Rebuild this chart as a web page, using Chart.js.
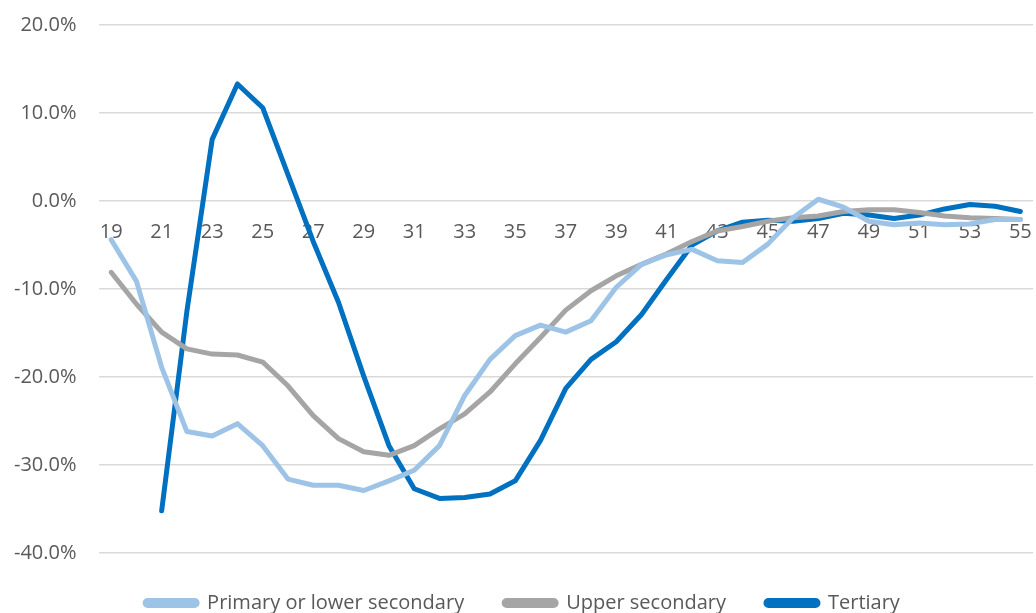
<!DOCTYPE html>
<html>
<head>
<meta charset="utf-8">
<script src="https://cdn.jsdelivr.net/npm/chart.js@4"></script>
<style>
  html, body { margin: 0; padding: 0; background: #fff; }
  #wrap { width: 1036px; height: 613px; }
</style>
</head>
<body>
<div id="wrap"><canvas id="chart" width="1036" height="613"></canvas></div>
<script>
// ages 19..55
const ages = [];
for (let a = 19; a <= 55; a++) ages.push(String(a));

const primary = [
  -4.4, -9.1, -18.9, -26.2, -26.7, -25.3, -27.8, -31.6, -32.3, -32.3,
  -32.9, -31.8, -30.6, -27.8, -22.1, -18.0, -15.3, -14.1, -14.9, -13.6,
  -9.8, -7.2, -6.1, -5.5, -6.8, -7.0, -4.9, -1.9, 0.2, -0.7,
  -2.3, -2.7, -2.5, -2.7, -2.6, -2.1, -2.1
];
const upperSecondary = [
  -8.1, -11.7, -14.9, -16.8, -17.4, -17.5, -18.3, -21.0, -24.4, -27.0,
  -28.5, -28.9, -27.8, -25.9, -24.2, -21.7, -18.5, -15.5, -12.4, -10.2,
  -8.5, -7.2, -6.0, -4.6, -3.4, -2.9, -2.3, -1.9, -1.7, -1.2,
  -1.0, -1.0, -1.3, -1.7, -1.9, -2.0, -2.1
];
const tertiary = [
  null, null, -35.2, -12.5, 7.0, 13.3, 10.6, 3.0, -4.6, -11.5,
  -19.9, -27.8, -32.7, -33.8, -33.7, -33.3, -31.8, -27.2, -21.3, -18.0,
  -16.0, -12.9, -8.9, -5.0, -3.4, -2.4, -2.2, -2.3, -2.0, -1.4,
  -1.6, -2.0, -1.6, -0.9, -0.4, -0.6, -1.2
];

const seriesNames = ["Primary or lower secondary", "Upper secondary", "Tertiary"];
const colors = ["#9dc3e6", "#a5a5a5", "#0070c0"];
const yTicks = [-40, -30, -20, -10, 0, 10, 20];

const textColor = "#595959";
const fontFamily = "'Open Sans', 'Noto Sans', sans-serif";
const hidden = "rgba(0,0,0,0)";

function ds(label, data, color) {
  return {
    label, data,
    borderColor: color, backgroundColor: color,
    borderWidth: 5, pointRadius: 0, tension: 0,
    borderCapStyle: "round", borderJoinStyle: "round",
    spanGaps: false
  };
}

new Chart(document.getElementById("chart"), {
  type: "line",
  data: {
    labels: ages,
    datasets: [
      ds(seriesNames[0], primary, colors[0]),
      ds(seriesNames[1], upperSecondary, colors[1]),
      ds(seriesNames[2], tertiary, colors[2])
    ]
  },
  options: {
    responsive: false,
    animation: false,
    layout: { padding: { top: 25, right: 3, left: 12, bottom: -10 } },
    plugins: {
      tooltip: { enabled: false },
      legend: {
        position: "bottom",
        labels: {
          boxWidth: 52, boxHeight: 5, useBorderRadius: true, borderRadius: 2.5,
          padding: 40,
          color: textColor,
          font: { family: fontFamily, size: 20 }
        }
      }
    },
    scales: {
      x: {
        type: "category",
        offset: true,
        position: { y: 0 },
        grid: { display: false, drawTicks: true, tickLength: 17, tickColor: hidden },
        border: { display: false },
        ticks: {
          autoSkip: false, maxRotation: 0, padding: 2,
          color: textColor,
          font: { family: fontFamily, size: 20 },
          callback: (v, i) => (i % 2 === 0 ? ages[i] : "")
        }
      },
      y: {
        min: -40, max: 20,
        afterBuildTicks: (s) => { s.ticks = yTicks.map(v => ({ value: v })); },
        grid: { color: "#d9d9d9", lineWidth: 1.5, drawTicks: true, tickLength: 20, tickColor: hidden },
        border: { display: false },
        ticks: {
          padding: 2,
          color: textColor,
          font: { family: fontFamily, size: 20 },
          callback: (v) => v.toFixed(1) + "%"
        }
      }
    }
  }
});
</script>
</body>
</html>
